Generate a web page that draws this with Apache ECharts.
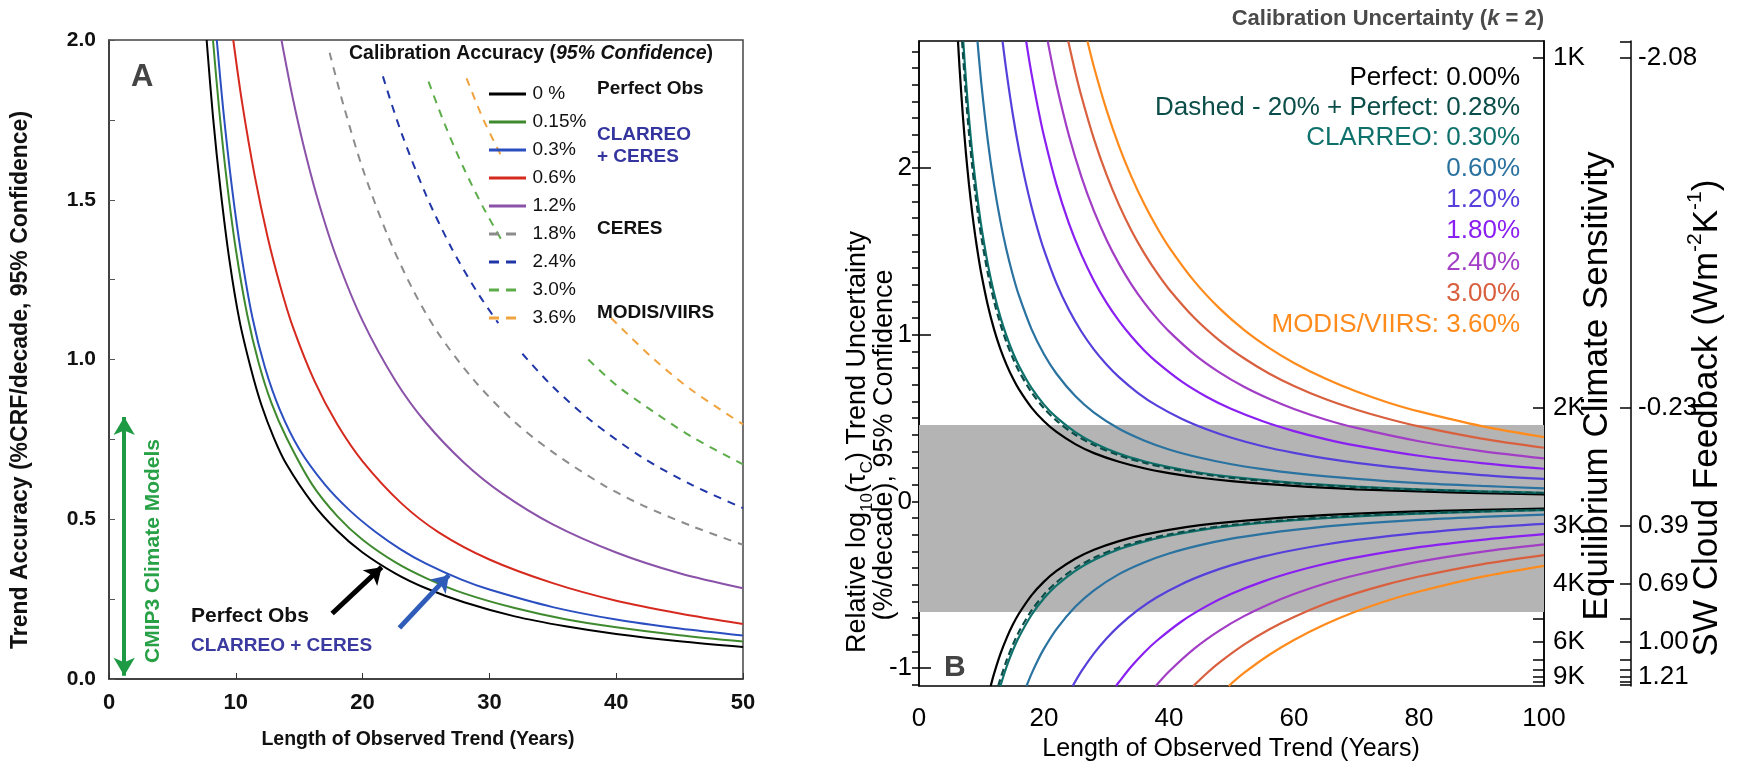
<!DOCTYPE html>
<html><head><meta charset="utf-8">
<script src="https://cdn.jsdelivr.net/npm/echarts@6/dist/echarts.min.js"></script>
<style>html,body{margin:0;padding:0;background:#fff}#c{width:1738px;height:766px}</style>
</head><body><div id="c"></div>
<script>
// ---------- Panel A data (years, %CRF/decade) ----------
const aNames = ['0 %','0.15%','0.3%','0.6%','1.2%','1.8%','2.4%','3.0%','3.6%'];
const aColors = ['#000000','#3f8a2f','#2b4fc0','#d62a1f','#8a52a8','#8c8c8c','#2036a8','#5cad4a','#f0a33e'];
const a000 = [[7.7,2.0],[8.2,1.76],[8.8,1.53],[9.5,1.31],[10.3,1.12],[11.2,0.97],[12,0.86],[13,0.755],[14,0.672],[16,0.553],[18,0.464],[20,0.396],[22.6,0.33],[25,0.284],[28,0.24],[32,0.196],[36,0.165],[40,0.141],[45,0.118],[50,0.1]];
const a015 = [[8.2,2.0],[8.7,1.777],[9.3,1.555],[10,1.345],[10.9,1.14],[11.8,0.99],[12.8,0.865],[14,0.755],[16,0.61],[18,0.51],[20,0.436],[22.6,0.365],[25,0.316],[28,0.268],[32,0.222],[36,0.187],[40,0.162],[45,0.137],[50,0.117]];
const a030 = [[8.5,2.0],[9.0,1.785],[9.7,1.537],[10.4,1.337],[11.3,1.133],[12.3,0.975],[13.5,0.84],[15,0.72],[17,0.61],[19,0.527],[21,0.461],[23,0.406],[25,0.361],[27.8,0.311],[30,0.28],[35,0.225],[40,0.186],[45,0.158],[50,0.136]];
const a060 = [[9.8,2.0],[10.5,1.803],[11.5,1.573],[12.5,1.385],[13.5,1.231],[14.5,1.102],[16.2,0.933],[18,0.797],[20,0.681],[23,0.552],[26,0.459],[30,0.374],[35,0.3],[40,0.245],[45,0.205],[50,0.172]];
const a120 = [[13.6,2.0],[14.5,1.817],[15.5,1.644],[16.6,1.483],[18,1.313],[20,1.121],[22.6,0.933],[25,0.802],[28,0.677],[31,0.581],[35,0.484],[40,0.396],[45,0.331],[50,0.284]];
const a180 = [[17.4,1.96],[18.5,1.795],[20,1.598],[22,1.386],[24,1.216],[26,1.08],[28.9,0.93],[32,0.804],[35,0.71],[38.9,0.609],[42,0.545],[46,0.478],[50,0.42]];
const a240 = [[21.6,1.886],[23,1.716],[25,1.515],[27,1.35],[29,1.213],[30.7,1.114],[31.6,'-'],[32.6,1.018],[35,0.915],[38,0.809],[42,0.695],[46,0.607],[50,0.535]];
const a300 = [[25.2,1.87],[26.5,1.734],[28,1.597],[29.5,1.477],[30.9,1.378],[34,'-'],[37.8,1.0],[40,0.92],[43,0.835],[46,0.757],[50,0.672]];
const a360 = [[28.2,1.88],[29.5,1.753],[30.9,1.64],[35,'-'],[39.6,1.13],[43,1.0],[46,0.903],[50,0.797]];
const aSeries = [a000,a015,a030,a060,a120,a180,a240,a300,a360];
const aDashed = [false,false,false,false,false,true,true,true,true];
const aXTicks = [0,10,20,30,40,50];
const aYTicks = [0,0.5,1.0,1.5,2.0];
// annotations in panel A (data coordinates)
const arrowPerfect = [[17.6,0.205],[21.5,0.35]];
const arrowClarreo = [[22.9,0.16],[26.8,0.325]];
const arrowCmip = [[1.2,0.01],[1.2,0.82]];

// ---------- Panel B data (years, relative log10 trend uncertainty) ----------
const bNames = ['Perfect: 0.00%','Dashed - 20% + Perfect: 0.28%','CLARREO: 0.30%','0.60%','1.20%','1.80%','2.40%','3.00%','MODIS/VIIRS: 3.60%'];
const bColors = ['#000000','#0b4d48','#0e716c','#2a72a0','#5640dc','#8a1ff2','#a23dc6','#d9603e','#ff8b1c'];
const bUp = [
 [[6.24,2.76],[6.5,2.595],[7,2.322],[7.5,2.093],[8,1.9],[8.5,1.735],[9,1.593],[9.5,1.469],[10,1.36],[11,1.179],[12,1.034],[13,0.917],[14,0.821],[15,0.74],[16,0.672],[18,0.563],[20,0.481],[22,0.417],[25,0.344],[28,0.29],[32,0.238],[36,0.199],[40,0.17],[45,0.142],[50,0.122],[60,0.093],[70,0.073],[80,0.06],[90,0.05],[100,0.043]],
 [[6.9,2.76],[7.5,2.434],[8,2.209],[8.5,2.018],[9,1.852],[9.5,1.708],[10,1.581],[11,1.371],[12,1.203],[13,1.067],[14,0.955],[15,0.861],[16,0.781],[18,0.655],[20,0.559],[22,0.485],[25,0.4],[28,0.338],[32,0.276],[36,0.232],[40,0.198],[45,0.166],[50,0.141],[60,0.108],[70,0.085],[80,0.07],[90,0.059],[100,0.05]],
 [[7.08,2.76],[7.5,2.532],[8,2.298],[8.5,2.098],[9,1.926],[9.5,1.776],[10,1.644],[11,1.425],[12,1.251],[13,1.109],[14,0.993],[15,0.895],[16,0.813],[18,0.681],[20,0.581],[22,0.504],[25,0.416],[28,0.351],[32,0.287],[36,0.241],[40,0.206],[45,0.172],[50,0.147],[60,0.112],[70,0.089],[80,0.073],[90,0.061],[100,0.052]],
 [[9.36,2.76],[10,2.498],[11,2.166],[12,1.9],[13,1.686],[14,1.508],[15,1.36],[16,1.234],[18,1.034],[20,0.883],[22,0.766],[25,0.632],[28,0.533],[32,0.436],[36,0.366],[40,0.312],[45,0.262],[50,0.223],[55,0.194],[60,0.17],[70,0.135],[80,0.11],[90,0.093],[100,0.079]],
 [[13.37,2.76],[14,2.577],[15,2.324],[16,2.109],[17,1.926],[18,1.768],[19,1.63],[20,1.509],[22,1.308],[24,1.148],[26,1.018],[28,0.911],[30,0.822],[32,0.746],[35,0.652],[38,0.576],[42,0.496],[46,0.433],[50,0.382],[55,0.331],[60,0.291],[65,0.258],[70,0.231],[80,0.189],[90,0.158],[100,0.135]],
 [[17.15,2.76],[18,2.566],[19,2.367],[20,2.191],[22,1.899],[24,1.667],[26,1.479],[28,1.323],[30,1.193],[32,1.083],[34,0.989],[36,0.907],[38,0.837],[42,0.72],[46,0.628],[50,0.554],[55,0.481],[60,0.422],[65,0.374],[70,0.335],[80,0.274],[90,0.23],[100,0.196]],
 [[20.6,2.76],[22,2.5],[24,2.194],[26,1.946],[28,1.741],[30,1.57],[32,1.425],[34,1.301],[36,1.194],[38,1.101],[40,1.02],[44,0.884],[48,0.776],[52,0.688],[56,0.616],[60,0.555],[65,0.492],[70,0.441],[80,0.361],[90,0.302],[100,0.258]],
 [[23.88,2.76],[25,2.576],[26,2.429],[28,2.173],[30,1.96],[32,1.779],[34,1.624],[36,1.491],[38,1.375],[40,1.273],[44,1.103],[48,0.968],[52,0.859],[56,0.768],[60,0.693],[65,0.614],[70,0.55],[75,0.496],[80,0.45],[90,0.377],[100,0.322]],
 [[26.95,2.76],[28,2.605],[30,2.349],[32,2.132],[34,1.947],[36,1.787],[38,1.648],[40,1.526],[44,1.323],[48,1.161],[52,1.029],[56,0.921],[60,0.831],[65,0.737],[70,0.659],[75,0.594],[80,0.54],[90,0.452],[100,0.386]]
];
const bDown = [
 [[11.47,-1.107],[12,-1.034],[13,-0.917],[14,-0.821],[15,-0.74],[16,-0.672],[18,-0.563],[20,-0.481],[22,-0.417],[25,-0.344],[28,-0.29],[32,-0.238],[36,-0.199],[40,-0.17],[45,-0.142],[50,-0.122],[60,-0.093],[70,-0.073],[80,-0.06],[90,-0.05],[100,-0.043]],
 [[12.68,-1.107],[13,-1.067],[14,-0.955],[15,-0.861],[16,-0.781],[18,-0.655],[20,-0.559],[22,-0.485],[25,-0.4],[28,-0.338],[32,-0.276],[36,-0.232],[40,-0.198],[45,-0.166],[50,-0.141],[60,-0.108],[70,-0.085],[80,-0.07],[90,-0.059],[100,-0.05]],
 [[13.02,-1.107],[14,-0.993],[15,-0.895],[16,-0.813],[18,-0.681],[20,-0.581],[22,-0.504],[25,-0.416],[28,-0.351],[32,-0.287],[36,-0.241],[40,-0.206],[45,-0.172],[50,-0.147],[60,-0.112],[70,-0.089],[80,-0.073],[90,-0.061],[100,-0.052]],
 [[17.2,-1.107],[18,-1.034],[19,-0.954],[20,-0.883],[22,-0.766],[25,-0.632],[28,-0.533],[32,-0.436],[36,-0.366],[40,-0.312],[45,-0.262],[50,-0.223],[55,-0.194],[60,-0.17],[70,-0.135],[80,-0.11],[90,-0.093],[100,-0.079]],
 [[24.59,-1.107],[26,-1.018],[28,-0.911],[30,-0.822],[32,-0.746],[35,-0.652],[38,-0.576],[42,-0.496],[46,-0.433],[50,-0.382],[55,-0.331],[60,-0.291],[65,-0.258],[70,-0.231],[80,-0.189],[90,-0.158],[100,-0.135]],
 [[31.53,-1.107],[32,-1.083],[34,-0.989],[36,-0.907],[38,-0.837],[42,-0.72],[46,-0.628],[50,-0.554],[55,-0.481],[60,-0.422],[65,-0.374],[70,-0.335],[80,-0.274],[90,-0.23],[100,-0.196]],
 [[37.88,-1.107],[40,-1.02],[44,-0.884],[48,-0.776],[52,-0.688],[56,-0.616],[60,-0.555],[65,-0.492],[70,-0.441],[80,-0.361],[90,-0.302],[100,-0.258]],
 [[43.9,-1.107],[46,-1.032],[48,-0.968],[52,-0.859],[56,-0.768],[60,-0.693],[65,-0.614],[70,-0.55],[75,-0.496],[80,-0.45],[90,-0.377],[100,-0.322]],
 [[49.55,-1.107],[52,-1.029],[56,-0.921],[60,-0.831],[65,-0.737],[70,-0.659],[75,-0.594],[80,-0.54],[90,-0.452],[100,-0.386]]
];
const bDashed = [false,true,false,false,false,false,false,false,false];
const bBand = [-0.663, 0.459];
const bYMin = -1.107, bYMax = 2.762;
const bXTicks = [0,20,40,60,80,100];
const bYLabels = [-1,0,1,2];
const ecsLabelPos = [2.662, 0.561, -0.145, -0.495, -0.841, -1.05];
const ecsTickPos = [2.662, 0.561, -0.145, -0.495, -0.705, -0.841, -0.947, -1.011, -1.05, -1.083];
const fbTickPos = [2.755, 2.662, 0.561, -0.145, -0.495, -0.705, -0.841, -0.947, -1.011, -1.05, -1.083, -1.1];
const ecsLabels = ['1K','2K','3K','4K','6K','9K'];
const fbLabels = ['-2.08','-0.23','0.39','0.69','1.00','1.21'];

const FONT = "'Liberation Sans', Arial, sans-serif";
const bMinor = [];
for (let v = -11; v <= 27; v++) bMinor.push(v / 10);

const ICON_SOLID = 'path://M0,0H37V3H0Z';
const ICON_DASH = 'path://M0,0H10V3H0Z M17,0H27V3H17Z M36.9,0H37V0.05H36.9Z';

const series = [];
aSeries.forEach((d, i) => {
  series.push({
    name: aNames[i], type: 'line', xAxisIndex: 0, yAxisIndex: 0, data: d,
    showSymbol: false, symbol: 'none', smooth: 0.3, z: 3,
    lineStyle: { color: aColors[i], width: 2, type: aDashed[i] ? [8, 7] : 'solid' },
    itemStyle: { color: aColors[i] }
  });
});
series.push({
  name: 'annot', type: 'line', xAxisIndex: 0, yAxisIndex: 0, data: [], silent: true, z: 5,
  markLine: {
    silent: true, animation: false, label: { show: false },
    data: [
      [{ coord: arrowPerfect[0], symbol: 'none' }, { coord: arrowPerfect[1], symbol: 'arrow', symbolSize: [16, 16], lineStyle: { color: '#000', width: 5, type: 'solid' } }],
      [{ coord: arrowClarreo[0], symbol: 'none' }, { coord: arrowClarreo[1], symbol: 'arrow', symbolSize: [16, 16], lineStyle: { color: '#2f5cb8', width: 5, type: 'solid' } }],
      [{ coord: arrowCmip[0], symbol: 'arrow', symbolSize: [16, 18] }, { coord: arrowCmip[1], symbol: 'arrow', symbolSize: [16, 18], lineStyle: { color: '#1f9a44', width: 4, type: 'solid' } }]
    ]
  }
});
series.push({
  name: 'band', type: 'line', xAxisIndex: 1, yAxisIndex: 1, data: [], silent: true, z: 1,
  markArea: { silent: true, itemStyle: { color: '#b4b4b4' }, data: [[{ coord: [0, bBand[0]] }, { coord: [100, bBand[1]] }]] }
});
[bUp, bDown].forEach(group => {
  group.forEach((d, i) => {
    series.push({
      name: bNames[i], type: 'line', xAxisIndex: 1, yAxisIndex: 1, data: d,
      showSymbol: false, symbol: 'none', smooth: 0.3, z: bDashed[i] ? 4 : 3,
      lineStyle: { color: bColors[i], width: 2.2, type: bDashed[i] ? [7, 4] : 'solid' }
    });
  });
});

const txt = (x, y, text, font, fill, extra) => ({ type: 'text', x, y, silent: true, z: 10,
  style: Object.assign({ text, font, fill }, extra || {}) });
const rot = (o) => Object.assign(o, { rotation: Math.PI / 2 });
const graphics = [];
// Panel A labels
graphics.push(txt(131, 77, 'A', `bold 31px ${FONT}`, '#444', { verticalAlign: 'middle' }));
graphics.push({ type: 'text', x: 349, y: 54, z: 10, silent: true, style: {
  text: '{b|Calibration Accuracy (}{i|95% Confidence}{b|)}', verticalAlign: 'middle',
  rich: { b: { font: `bold 19.5px ${FONT}`, fill: '#111' }, i: { font: `italic bold 19.5px ${FONT}`, fill: '#111' } } } });
const aNoteY = [89, 135, 157, 229, 313];
const aNotes = ['Perfect Obs', 'CLARREO', '+ CERES', 'CERES', 'MODIS/VIIRS'];
const aNoteColors = ['#111', '#3535a0', '#3535a0', '#111', '#111'];
aNotes.forEach((n, i) => graphics.push(txt(597, aNoteY[i], n, `bold 19px ${FONT}`, aNoteColors[i], { verticalAlign: 'middle' })));
graphics.push(txt(191, 616, 'Perfect Obs', `bold 21px ${FONT}`, '#111', { verticalAlign: 'middle' }));
graphics.push(txt(191, 646, 'CLARREO + CERES', `bold 19px ${FONT}`, '#3a3aa0', { verticalAlign: 'middle' }));
graphics.push(rot(txt(153, 551, 'CMIP3 Climate Models', `bold 21px ${FONT}`, '#27a046', { align: 'center', verticalAlign: 'middle' })));
graphics.push(rot(txt(21, 380, 'Trend Accuracy (%CRF/decade, 95% Confidence)', `bold 23px ${FONT}`, '#111', { align: 'center', verticalAlign: 'middle' })));
graphics.push(txt(418, 740, 'Length of Observed Trend (Years)', `bold 19.5px ${FONT}`, '#111', { align: 'center', verticalAlign: 'middle' }));
// Panel B labels
graphics.push(txt(944, 668, 'B', `bold 30px ${FONT}`, '#444', { verticalAlign: 'middle' }));
graphics.push({ type: 'text', x: 1544, y: 19, z: 10, silent: true, style: {
  text: '{b|Calibration Uncertainty (}{i|k}{b| = 2)}', align: 'right', verticalAlign: 'middle',
  rich: { b: { font: `bold 22px ${FONT}`, fill: '#4a4a4a' }, i: { font: `italic bold 22px ${FONT}`, fill: '#4a4a4a' } } } });
graphics.push(txt(1231, 749, 'Length of Observed Trend (Years)', `25px ${FONT}`, '#000', { align: 'center', verticalAlign: 'middle' }));
graphics.push({ type: 'text', x: 858, y: 442, rotation: Math.PI / 2, z: 10, silent: true, style: {
  text: '{n|Relative log}{s|10}{n|(τ}{s|C}{n|) Trend Uncertainty}', align: 'center', verticalAlign: 'middle',
  rich: { n: { font: `27px ${FONT}`, fill: '#000', lineHeight: 36 }, s: { font: `17px ${FONT}`, fill: '#000', lineHeight: 36, verticalAlign: 'bottom' } } } });
graphics.push(rot(txt(885, 445, '(%/decade), 95% Confidence', `27px ${FONT}`, '#000', { align: 'center', verticalAlign: 'middle' })));
graphics.push(rot(txt(1597, 386, 'Equilibrium Climate Sensitivity', `35px ${FONT}`, '#000', { align: 'center', verticalAlign: 'middle' })));
graphics.push({ type: 'text', x: 1707, y: 418, rotation: Math.PI / 2, z: 10, silent: true, style: {
  text: '{n|SW Cloud Feedback (Wm}{p|-2}{n|K}{p|-1}{n|)}', align: 'center', verticalAlign: 'middle',
  rich: { n: { font: `35px ${FONT}`, fill: '#000', lineHeight: 44 }, p: { font: `21px ${FONT}`, fill: '#000', lineHeight: 44, verticalAlign: 'top' } } } });
const bLegY = [78, 108, 138, 169, 200, 231, 263, 294, 325];
bNames.forEach((n, i) => graphics.push(txt(1520, bLegY[i], n, `26px ${FONT}`, bColors[i], { align: 'right', verticalAlign: 'middle' })));

const chart = echarts.init(document.getElementById('c'));
chart.setOption({
  animation: false,
  backgroundColor: '#fff',
  grid: [
    { left: 109, top: 40, width: 634, height: 639, show: true, borderColor: '#444', borderWidth: 1.5 },
    { left: 919, top: 41, width: 625, height: 645, show: true, borderColor: '#000', borderWidth: 1.5 }
  ],
  legend: {
    data: aNames.map((n, i) => ({ name: n, icon: aDashed[i] ? ICON_DASH : ICON_SOLID, itemStyle: { color: aColors[i] } })),
    orient: 'vertical', left: 484, top: 79, itemWidth: 40, itemHeight: 3, itemGap: 8,
    selectedMode: false, textStyle: { fontFamily: FONT, fontSize: 19, lineHeight: 20, color: '#111' }
  },
  xAxis: [
    { gridIndex: 0, type: 'value', min: 0, max: 50, interval: 10, splitLine: { show: false },
      axisLine: { lineStyle: { color: '#333', width: 1.5 } }, axisTick: { inside: true, length: 6, lineStyle: { color: '#333' } },
      axisLabel: { customValues: aXTicks, margin: 13, fontFamily: FONT, fontWeight: 'bold', fontSize: 22, color: '#111' } },
    { gridIndex: 1, type: 'value', min: 0, max: 100, interval: 20, splitLine: { show: false },
      axisLine: { lineStyle: { color: '#000', width: 1.5 } }, axisTick: { inside: true, length: 10, lineStyle: { color: '#000', width: 1.5 } },
      minorTick: { show: true, splitNumber: 4, length: 7, lineStyle: { color: '#000', width: 1.5 } },
      axisLabel: { customValues: bXTicks, margin: 20, fontFamily: FONT, fontSize: 26, color: '#000' } },
    { gridIndex: 1, type: 'value', position: 'top', min: 0, max: 100, interval: 20, splitLine: { show: false },
      axisLine: { lineStyle: { color: '#000', width: 1.5 } }, axisTick: { inside: true, length: 7, lineStyle: { color: '#000', width: 1.5 } },
      minorTick: { show: true, splitNumber: 4, length: 7, lineStyle: { color: '#000', width: 1.5 } }, axisLabel: { show: false } }
  ],
  yAxis: [
    { gridIndex: 0, type: 'value', min: 0, max: 2, interval: 0.5, splitLine: { show: false },
      axisLine: { lineStyle: { color: '#333', width: 1.5 } }, axisTick: { inside: true, length: 6, lineStyle: { color: '#555' } },
      minorTick: { show: true, splitNumber: 2, length: 6, lineStyle: { color: '#555' } },
      axisLabel: { customValues: aYTicks, formatter: v => v.toFixed(1), margin: 13, fontFamily: FONT, fontWeight: 'bold', fontSize: 21, color: '#111' } },
    { gridIndex: 1, type: 'value', min: bYMin, max: bYMax, splitLine: { show: false },
      axisLine: { lineStyle: { color: '#000', width: 1.5 } },
      axisTick: { inside: true, length: 12, customValues: bYLabels, lineStyle: { color: '#000', width: 1.5 } },
      axisLabel: { customValues: bYLabels, margin: 7, fontFamily: FONT, fontSize: 26, color: '#000' } },
    { gridIndex: 1, type: 'value', min: bYMin, max: bYMax, splitLine: { show: false }, axisLine: { show: false },
      axisTick: { inside: true, length: 7, customValues: bMinor, lineStyle: { color: '#000', width: 1.5 } }, axisLabel: { show: false } },
    { gridIndex: 1, type: 'value', position: 'right', min: bYMin, max: bYMax, splitLine: { show: false },
      axisLine: { show: true, lineStyle: { color: '#000', width: 1.5 } },
      axisTick: { inside: true, length: 11, customValues: ecsTickPos, lineStyle: { color: '#000', width: 1.5 } },
      axisLabel: { customValues: ecsLabelPos, margin: 9, fontFamily: FONT, fontSize: 26, color: '#000',
        formatter: v => { const i = ecsLabelPos.findIndex(p => Math.abs(p - v) < 1e-6); return i >= 0 ? ecsLabels[i] : ''; } } },
    { gridIndex: 1, type: 'value', position: 'right', offset: 87, min: bYMin, max: bYMax, splitLine: { show: false },
      axisLine: { show: true, lineStyle: { color: '#000', width: 1.5 } },
      axisTick: { inside: true, length: 11, customValues: fbTickPos, lineStyle: { color: '#000', width: 1.5 } },
      axisLabel: { customValues: ecsLabelPos, margin: 7, fontFamily: FONT, fontSize: 26, color: '#000',
        formatter: v => { const i = ecsLabelPos.findIndex(p => Math.abs(p - v) < 1e-6); return i >= 0 ? fbLabels[i] : ''; } } }
  ],
  series,
  graphic: graphics
});
</script></body></html>
